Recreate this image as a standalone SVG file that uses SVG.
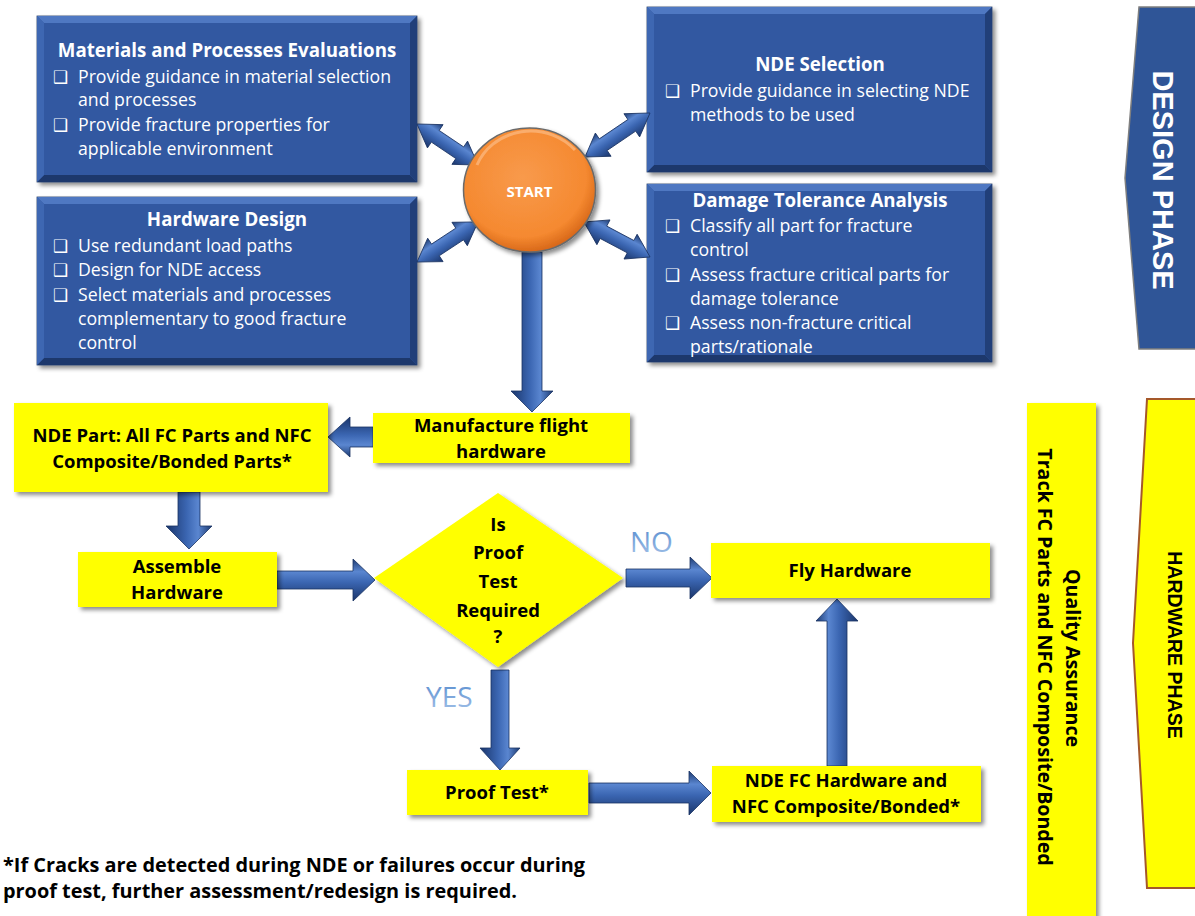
<svg xmlns="http://www.w3.org/2000/svg" width="1195" height="916" viewBox="0 0 1195 916">
<defs>
<filter id="sh" x="-10%" y="-10%" width="130%" height="130%">
<feDropShadow dx="3" dy="3" stdDeviation="2" flood-color="#000" flood-opacity="0.45"/>
</filter>
<linearGradient id="ag" x1="0" y1="0" x2="0" y2="1">
<stop offset="0" stop-color="#1d3a70"/>
<stop offset="0.3" stop-color="#5a86d0"/>
<stop offset="0.55" stop-color="#3b66b2"/>
<stop offset="1" stop-color="#1a356a"/>
</linearGradient>
<radialGradient id="og" cx="0.45" cy="0.4" r="0.6">
<stop offset="0" stop-color="#f89a4c"/>
<stop offset="0.8" stop-color="#f58930"/>
<stop offset="1" stop-color="#d9691a"/>
</radialGradient>
<linearGradient id="yn" x1="0" y1="0" x2="0" y2="1">
<stop offset="0" stop-color="#4f86cc"/>
<stop offset="1" stop-color="#a9c6ea"/>
</linearGradient>
<style>
.box{fill:#3159a1;stroke:#2a3f66;stroke-width:0.8}
.bvT{fill:#4f78c2}.bvL{fill:#3e67b2}.bvR{fill:#213f79}.bvB{fill:#1d386c}
.bt{font-family:"Open Sans","Liberation Sans",sans-serif;font-size:18.7px;font-weight:bold;fill:#fff;text-anchor:middle}
.bl{font-family:"Open Sans","Liberation Sans",sans-serif;font-size:17.7px;fill:#fff}
.bu{font-family:"DejaVu Sans",sans-serif;font-size:17px;fill:#fff}
.yb{fill:#ffff00}
.yt{font-family:"Open Sans","Liberation Sans",sans-serif;font-size:18.5px;font-weight:bold;fill:#000;text-anchor:middle}
.arr{fill:url(#ag);stroke:#1b3463;stroke-width:0.8}
.yn{font-family:"Open Sans","Liberation Sans",sans-serif;font-size:28px;fill:url(#yn)}
.vt{font-family:"Open Sans","Liberation Sans",sans-serif;font-size:19.6px;font-weight:bold;fill:#000;text-anchor:middle}
.fn{font-family:"Open Sans","Liberation Sans",sans-serif;font-size:19.5px;font-weight:bold;fill:#000}
</style>
</defs>
<rect width="1195" height="916" fill="#fff"/>

<g id="materials">
<rect class="box" x="37" y="16" width="380" height="166" filter="url(#sh)"/>
<polygon class="bvT" points="37,16 417,16 410,23 44,23"/>
<polygon class="bvB" points="37,182 417,182 410,175 44,175"/>
<polygon class="bvL" points="37,16 44,23 44,175 37,182"/>
<polygon class="bvR" points="417,16 410,23 410,175 417,182"/>
<text class="bt" x="227" y="57">Materials and Processes Evaluations</text>
<text class="bu" x="53" y="83">❑</text>
<text class="bl" x="78" y="83">Provide guidance in material selection</text>
<text class="bl" x="78" y="106">and processes</text>
<text class="bu" x="53" y="131">❑</text>
<text class="bl" x="78" y="131">Provide fracture properties for</text>
<text class="bl" x="78" y="155">applicable environment</text>
</g>

<g id="hardware-design">
<rect class="box" x="37" y="197" width="380" height="168" filter="url(#sh)"/>
<polygon class="bvT" points="37,197 417,197 410,204 44,204"/>
<polygon class="bvB" points="37,365 417,365 410,358 44,358"/>
<polygon class="bvL" points="37,197 44,204 44,358 37,365"/>
<polygon class="bvR" points="417,197 410,204 410,358 417,365"/>
<text class="bt" x="227" y="226">Hardware Design</text>
<text class="bu" x="53" y="252">❑</text>
<text class="bl" x="78" y="252">Use redundant load paths</text>
<text class="bu" x="53" y="276">❑</text>
<text class="bl" x="78" y="276">Design for NDE access</text>
<text class="bu" x="53" y="301">❑</text>
<text class="bl" x="78" y="301">Select materials and processes</text>
<text class="bl" x="78" y="325">complementary to good fracture</text>
<text class="bl" x="78" y="349">control</text>
</g>

<g id="nde-selection">
<rect class="box" x="647" y="7" width="345" height="165" filter="url(#sh)"/>
<polygon class="bvT" points="647,7 992,7 985,14 654,14"/>
<polygon class="bvB" points="647,172 992,172 985,165 654,165"/>
<polygon class="bvL" points="647,7 654,14 654,165 647,172"/>
<polygon class="bvR" points="992,7 985,14 985,165 992,172"/>
<text class="bt" x="820" y="71">NDE Selection</text>
<text class="bu" x="665" y="97">❑</text>
<text class="bl" x="690" y="97">Provide guidance in selecting NDE</text>
<text class="bl" x="690" y="121">methods to be used</text>
</g>

<g id="damage-tolerance">
<rect class="box" x="647" y="184" width="345" height="178" filter="url(#sh)"/>
<polygon class="bvT" points="647,184 992,184 985,191 654,191"/>
<polygon class="bvB" points="647,362 992,362 985,355 654,355"/>
<polygon class="bvL" points="647,184 654,191 654,355 647,362"/>
<polygon class="bvR" points="992,184 985,191 985,355 992,362"/>
<text class="bt" x="820" y="207">Damage Tolerance Analysis</text>
<text class="bu" x="665" y="232">❑</text>
<text class="bl" x="690" y="232">Classify all part for fracture</text>
<text class="bl" x="690" y="256">control</text>
<text class="bu" x="665" y="281">❑</text>
<text class="bl" x="690" y="281">Assess fracture critical parts for</text>
<text class="bl" x="690" y="305">damage tolerance</text>
<text class="bu" x="665" y="329">❑</text>
<text class="bl" x="690" y="329">Assess non-fracture critical</text>
<text class="bl" x="690" y="353">parts/rationale</text>
</g>

<g id="connectors">
<polygon class="arr" transform="translate(417,124) rotate(33.9)" points="0,0 22,-14 22,-7 51.5,-7 51.5,-14 73.5,0 51.5,14 51.5,7 22,7 22,14"/>
<polygon class="arr" transform="translate(417,262) rotate(-33.3)" points="0,0 22,-14 22,-7 51,-7 51,-14 73,0 51,14 51,7 22,7 22,14"/>
<polygon class="arr" transform="translate(585,157) rotate(-34.1)" points="0,0 22,-14 22,-7 56.5,-7 56.5,-14 78.5,0 56.5,14 56.5,7 22,7 22,14"/>
<polygon class="arr" transform="translate(584,222) rotate(27.9)" points="0,0 22,-14 22,-7 52.7,-7 52.7,-14 74.7,0 52.7,14 52.7,7 22,7 22,14"/>
<polygon class="arr" transform="translate(532,252) rotate(90)" points="0,-10 139,-10 139,-21 160,0 139,21 139,10 0,10"/>
<polygon class="arr" transform="translate(373,437) rotate(180)" points="0,-10 23,-10 23,-20 45,0 23,20 23,10 0,10"/>
<polygon class="arr" transform="translate(189,492) rotate(90)" points="0,-11 34,-11 34,-23 57,0 34,23 34,11 0,11"/>
<polygon class="arr" transform="translate(277,580)" points="0,-9 76,-9 76,-21 98,0 76,21 76,9 0,9"/>
<polygon class="arr" transform="translate(626,578)" points="0,-9 64,-9 64,-21 86,0 64,21 64,9 0,9"/>
<polygon class="arr" transform="translate(500,670) rotate(90)" points="0,-9 78,-9 78,-20 100,0 78,20 78,9 0,9"/>
<polygon class="arr" transform="translate(589,793)" points="0,-10 100,-10 100,-22 122,0 100,22 100,10 0,10"/>
<polygon class="arr" transform="translate(837,766) rotate(-90)" points="0,-10 145,-10 145,-21 167,0 145,21 145,10 0,10"/>
<text class="yn" x="630" y="552">NO</text>
<text class="yn" x="426" y="707">YES</text>
</g>

<g id="start">
<ellipse cx="529.5" cy="190" rx="66" ry="62" fill="url(#og)" stroke="#6b6b6b" stroke-width="1.5" filter="url(#sh)"/>
<path d="M477,165 A58,54 0 0 1 575,150" fill="none" stroke="#fbb57a" stroke-width="3" opacity="0.8"/>
<text x="529.5" y="197" font-family="'Open Sans','Liberation Sans',sans-serif" font-size="15" font-weight="bold" fill="#fff" text-anchor="middle">START</text>
</g>

<g id="manufacture">
<rect class="yb" x="373" y="413" width="257" height="50" filter="url(#sh)"/>
<text class="yt" x="501" y="432">Manufacture flight</text>
<text class="yt" x="501" y="458">hardware</text>
</g>

<g id="nde-part">
<rect class="yb" x="14" y="403" width="314" height="89" filter="url(#sh)"/>
<text class="yt" x="172" y="442">NDE Part: All FC Parts and NFC</text>
<text class="yt" x="172" y="468">Composite/Bonded Parts*</text>
</g>

<g id="assemble">
<rect class="yb" x="78" y="552" width="199" height="55" filter="url(#sh)"/>
<text class="yt" x="177" y="573">Assemble</text>
<text class="yt" x="177" y="599">Hardware</text>
</g>

<g id="decision">
<polygon class="yb" points="374,578 498,493 623,578 498,667" filter="url(#sh)"/>
<text class="yt" x="498" y="531">Is</text>
<text class="yt" x="498" y="559">Proof</text>
<text class="yt" x="498" y="588">Test</text>
<text class="yt" x="498" y="617">Required</text>
<text class="yt" x="498" y="643">?</text>
</g>

<g id="fly-hardware">
<rect class="yb" x="711" y="543" width="279" height="55" filter="url(#sh)"/>
<text class="yt" x="850" y="577">Fly Hardware</text>
</g>

<g id="proof-test">
<rect class="yb" x="407" y="770" width="181" height="45" filter="url(#sh)"/>
<text class="yt" x="497" y="799">Proof Test*</text>
</g>

<g id="nde-fc">
<rect class="yb" x="712" y="766" width="269" height="56" filter="url(#sh)"/>
<text class="yt" x="846" y="787">NDE FC Hardware and</text>
<text class="yt" x="846" y="813">NFC Composite/Bonded*</text>
</g>

<g id="design-phase">
<polygon points="1139,7 1196,7 1196,349 1139,349 1125,178" fill="#2f5597" stroke="#7f7f7f" stroke-width="1.5"/>
<text transform="translate(1153,180) rotate(90)" font-family="'Liberation Sans',sans-serif" font-size="29" font-weight="bold" fill="#fff" text-anchor="middle">DESIGN PHASE</text>
</g>

<g id="hardware-phase">
<polygon points="1147,399 1197,399 1197,888 1147,888 1133,643" fill="#ffff00" stroke="#a5582a" stroke-width="2"/>
<text transform="translate(1168,645) rotate(90)" font-family="'Liberation Sans',sans-serif" font-size="19.5" font-weight="bold" fill="#000" text-anchor="middle">HARDWARE PHASE</text>
</g>

<g id="quality-assurance">
<rect class="yb" x="1027" y="403" width="69" height="520" filter="url(#sh)"/>
<text class="vt" transform="translate(1066,658) rotate(90)">Quality Assurance</text>
<text class="vt" transform="translate(1038,657) rotate(90)">Track FC Parts and NFC Composite/Bonded</text>
</g>

<g id="footnote">
<text class="fn" x="3" y="872" textLength="582" lengthAdjust="spacingAndGlyphs">*If Cracks are detected during NDE or failures occur during</text>
<text class="fn" x="3" y="898" textLength="514" lengthAdjust="spacingAndGlyphs">proof test, further assessment/redesign is required.</text>
</g>
</svg>
